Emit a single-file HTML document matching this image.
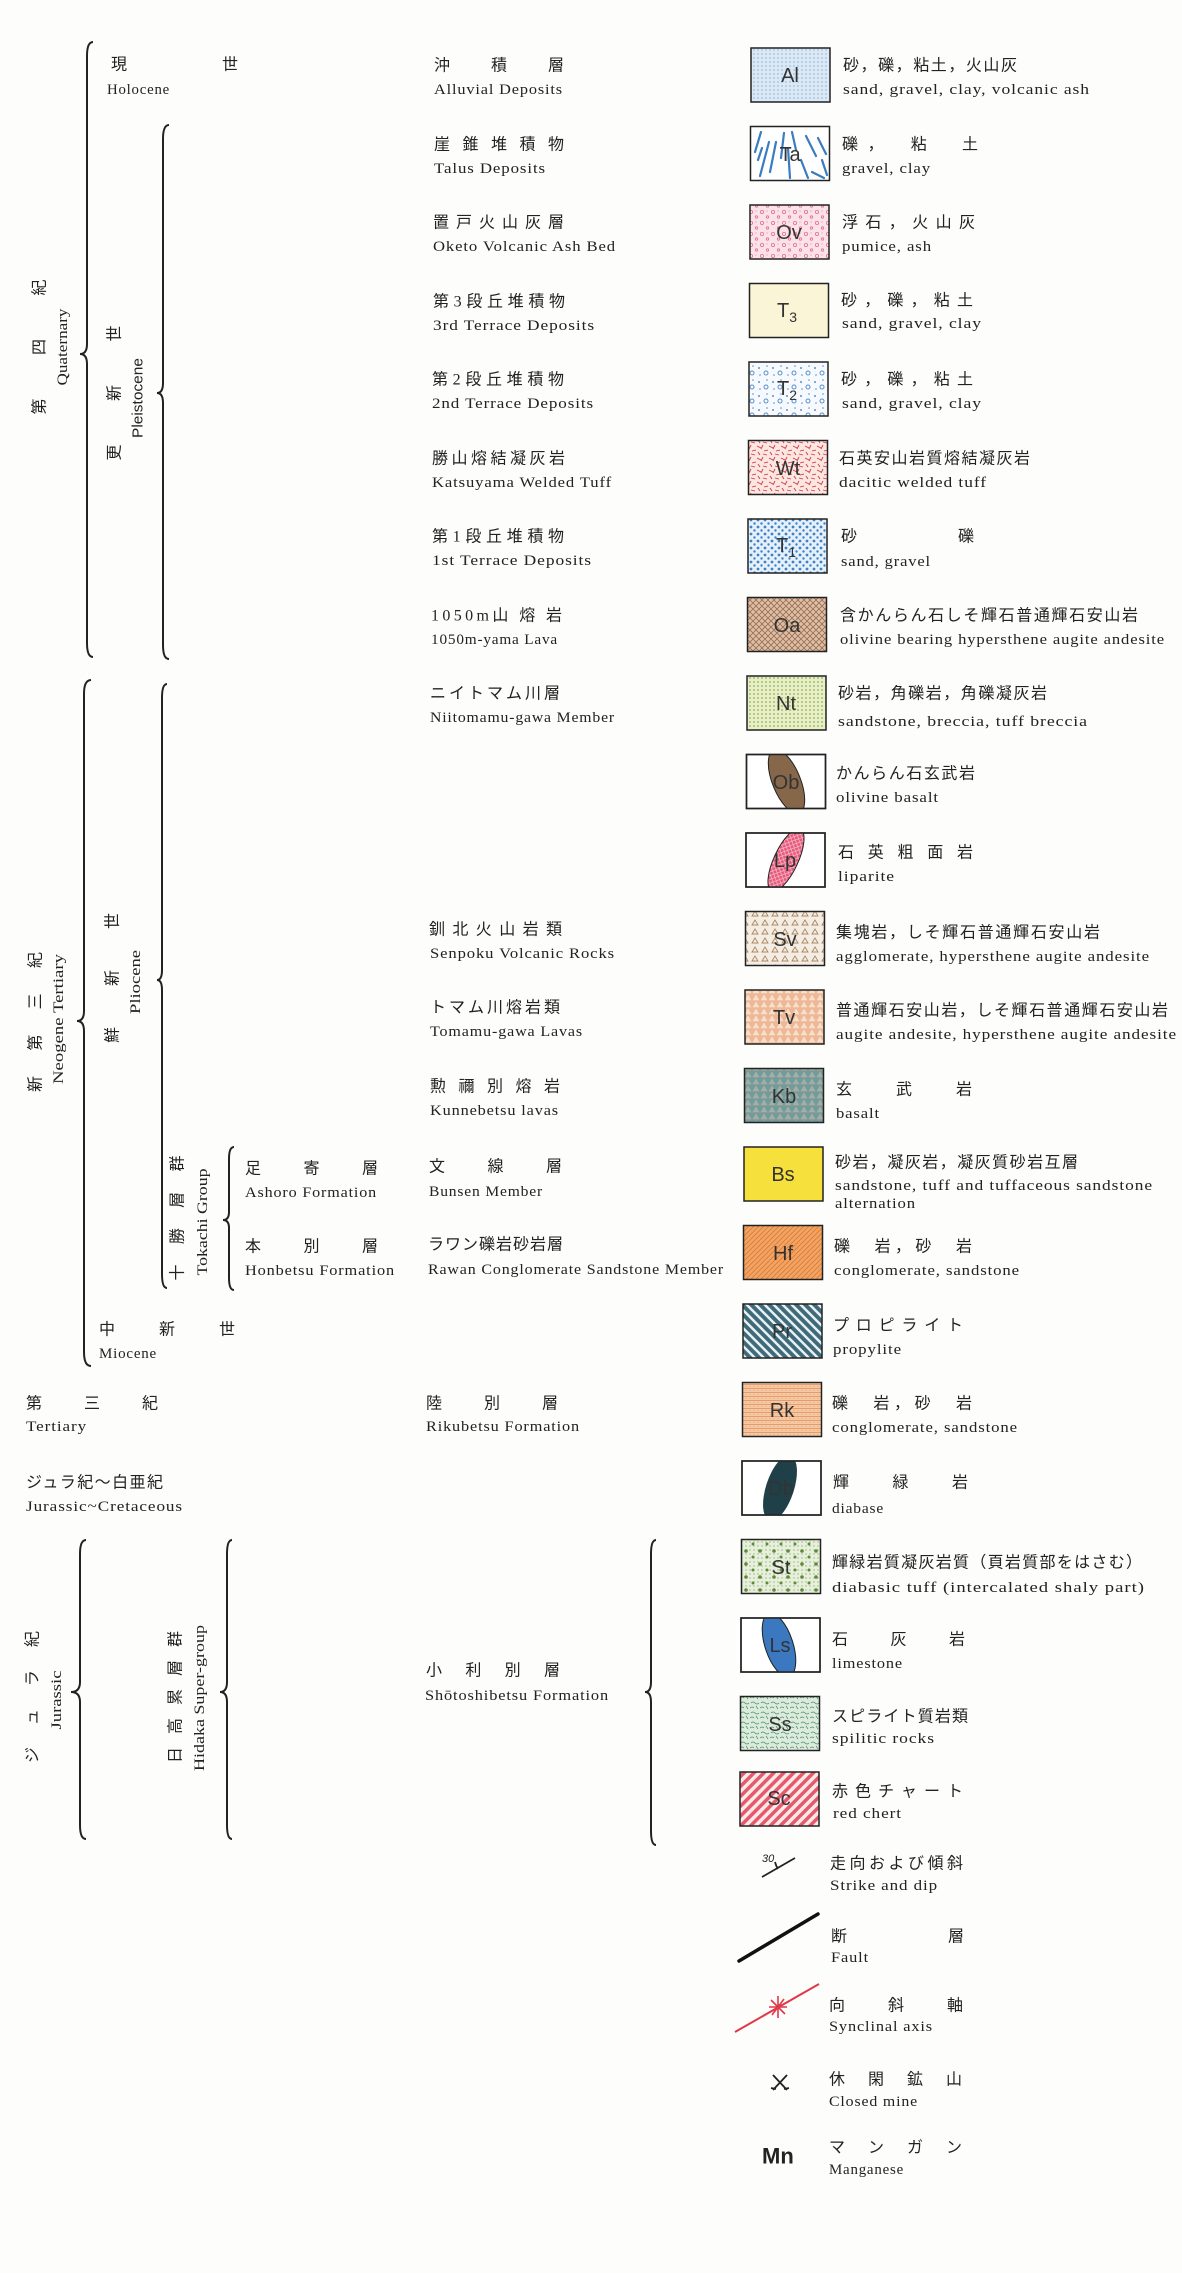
<!DOCTYPE html>
<html><head><meta charset="utf-8"><style>
html,body{margin:0;padding:0;background:#fdfdfb;}
svg{display:block;}
text{font-family:"Liberation Serif","Noto Serif CJK SC","Noto Sans CJK JP",serif;fill:#222;dominant-baseline:central;}
.en{font-size:15px;letter-spacing:0.8px;}
.jp{font-family:"Liberation Serif","Noto Sans CJK JP",sans-serif;font-size:16px;}
.lb{font-family:"Liberation Sans",sans-serif;font-size:20px;fill:#333;text-anchor:middle;}
.br{fill:none;stroke:#222;stroke-width:2;}
</style></head><body>
<svg width="1182" height="2273" viewBox="0 0 1182 2273" xmlns="http://www.w3.org/2000/svg">
<defs>
<pattern id="pAl" width="4" height="4" patternUnits="userSpaceOnUse"><rect width="4" height="4" fill="#dbe8f5"/><circle cx="2" cy="2" r="0.7" fill="#8fa8c8"/></pattern>
<pattern id="pOv" width="11" height="11" patternUnits="userSpaceOnUse"><rect width="11" height="11" fill="#fbe1e8"/><circle cx="3" cy="3" r="1.6" fill="none" stroke="#e0708f" stroke-width="0.8"/><circle cx="8.5" cy="8" r="1.2" fill="none" stroke="#e0708f" stroke-width="0.8"/><circle cx="8" cy="2" r="0.5" fill="#e0708f"/></pattern>
<pattern id="pT2" width="14" height="14" patternUnits="userSpaceOnUse"><rect width="14" height="14" fill="#f6f9fd"/><circle cx="3" cy="4" r="1" fill="#5a90c8"/><circle cx="10" cy="9" r="2" fill="none" stroke="#5a90c8"/><circle cx="11" cy="2" r="0.8" fill="#5a90c8"/><circle cx="4" cy="11" r="0.8" fill="#5a90c8"/></pattern>
<pattern id="pWt" width="12" height="12" patternUnits="userSpaceOnUse"><rect width="12" height="12" fill="#fbe6e0"/><path d="M1 2l4 2M7 1l-2 4M8 7l4-1M2 8l2 3M7 10l4 1" stroke="#d03848" stroke-width="0.9"/></pattern>
<pattern id="pTr" width="7" height="7" patternUnits="userSpaceOnUse"><rect width="7" height="7" fill="#e6f0fb"/><circle cx="2" cy="2" r="1.4" fill="#3b82c8"/><circle cx="5.5" cy="5.5" r="1.2" fill="#3b82c8"/></pattern>
<pattern id="pOa" width="6" height="6" patternUnits="userSpaceOnUse"><rect width="6" height="6" fill="#dcbfa6"/><path d="M0 0L6 6M6 0L0 6" stroke="#9a6e50" stroke-width="0.8"/></pattern>
<pattern id="pNt" width="4" height="4" patternUnits="userSpaceOnUse"><rect width="4" height="4" fill="#e6f0c4"/><circle cx="2" cy="2" r="0.9" fill="#98aa68"/></pattern>
<pattern id="pLp" width="5" height="5" patternUnits="userSpaceOnUse"><rect width="5" height="5" fill="#e6587c"/><path d="M0 0L5 5M5 0L0 5" stroke="#f8c0cc" stroke-width="0.7"/></pattern>
<pattern id="pSv" width="10" height="9" patternUnits="userSpaceOnUse"><rect width="10" height="9" fill="#f6ede2"/><path d="M2 7L5 2L8 7Z" fill="none" stroke="#a58868" stroke-width="0.9"/></pattern>
<pattern id="pTv" width="8" height="7" patternUnits="userSpaceOnUse"><rect width="8" height="7" fill="#eeb896"/><path d="M1 6L4 1L7 6Z" fill="#f8ddc8" stroke="#f8e6d8" stroke-width="0.5"/></pattern>
<pattern id="pKb" width="8" height="7" patternUnits="userSpaceOnUse"><rect width="8" height="7" fill="#6f9c9e"/><path d="M1 6L4 1L7 6Z" fill="#8fb4b8" stroke="#c0a488" stroke-width="0.7"/></pattern>
<pattern id="pHf" width="5" height="5" patternUnits="userSpaceOnUse"><rect width="5" height="5" fill="#f4a462"/><path d="M0 5L5 0M-1 1L1 -1M4 6L6 4" stroke="#d87a38" stroke-width="0.8"/></pattern>
<pattern id="pPr" width="9" height="9" patternUnits="userSpaceOnUse"><rect width="9" height="9" fill="#3e6a7a"/><path d="M0 0L9 9M-9 0L9 18M0 -9L18 9" stroke="#e8f0f2" stroke-width="2.5" transform="scale(1,1)"/></pattern>
<pattern id="pRk" width="4" height="4" patternUnits="userSpaceOnUse"><rect width="4" height="4" fill="#f7c9a2"/><path d="M0 0.5H4" stroke="#e09060" stroke-width="0.8"/><circle cx="2" cy="2.5" r="0.5" fill="#e09a70"/></pattern>
<pattern id="pSt" width="4" height="4" patternUnits="userSpaceOnUse"><rect width="4" height="4" fill="#e7f0da"/><circle cx="2" cy="2" r="0.7" fill="#9ab080"/></pattern>
<pattern id="pSt2" width="14" height="13" patternUnits="userSpaceOnUse"><circle cx="4" cy="4" r="1.8" fill="#5e8a3a"/><circle cx="11" cy="10" r="1.5" fill="#5e8a3a"/></pattern>
<pattern id="pSs" width="10" height="10" patternUnits="userSpaceOnUse"><rect width="10" height="10" fill="#dcecdc"/><path d="M1 3q2-2 4 0t4 0M0 8q2-2 4 0M6 6l2 3" fill="none" stroke="#4d8a6a" stroke-width="0.7"/></pattern>
<pattern id="pSc" width="7" height="7" patternUnits="userSpaceOnUse" patternTransform="rotate(45)"><rect width="7" height="7" fill="#fde8ea"/><rect width="3.5" height="7" fill="#e55a6a"/></pattern>
</defs>

<!-- brackets -->
<path class="br" d="M93 42Q87 42 87 56L87 344Q87 354 80 354Q87 354 87 364L87 643Q87 657 93 657"/>
<path class="br" d="M169 125Q163 125 163 139L163 383Q163 393 157 393Q163 393 163 403L163 645Q163 659 169 659"/>
<path class="br" d="M91 680Q84 680 84 694L84 1011Q84 1021 77 1021Q84 1021 84 1031L84 1352Q84 1366 91 1366"/>
<path class="br" d="M167 684Q162 684 162 698L162 970Q162 980 157 980Q162 980 162 990L162 1274Q162 1288 167 1288"/>
<path class="br" d="M234 1147Q229 1147 229 1159L229 1212Q229 1220 223 1220Q229 1220 229 1228L229 1278Q229 1290 234 1290"/>
<path class="br" d="M86 1540Q80 1540 80 1554L80 1682Q80 1692 71 1692Q80 1692 80 1702L80 1825Q80 1839 86 1839"/>
<path class="br" d="M232 1540Q227 1540 227 1554L227 1682Q227 1692 220 1692Q227 1692 227 1702L227 1825Q227 1839 232 1839"/>
<path class="br" d="M656 1540Q651 1540 651 1554L651 1682Q651 1692 645 1692Q651 1692 651 1702L651 1831Q651 1845 656 1845"/>

<!-- vertical labels -->
<text class="jp" transform="translate(40,347) rotate(-90)" text-anchor="middle" textLength="135" lengthAdjust="spacing">第四紀</text>
<text class="en" transform="translate(63,347) rotate(-90)" text-anchor="middle" textLength="77" lengthAdjust="spacingAndGlyphs" style="letter-spacing:0">Quaternary</text>
<text class="jp" transform="translate(115,393) rotate(-90)" text-anchor="middle" textLength="135" lengthAdjust="spacing">更新世</text>
<text class="en" style="font-family:'Liberation Sans',sans-serif;letter-spacing:0" transform="translate(138,398) rotate(-90)" text-anchor="middle" textLength="80" lengthAdjust="spacingAndGlyphs">Pleistocene</text>
<text class="jp" transform="translate(36,1022) rotate(-90)" text-anchor="middle" textLength="140" lengthAdjust="spacing">新第三紀</text>
<text class="en" transform="translate(59,1019) rotate(-90)" text-anchor="middle" textLength="130" lengthAdjust="spacingAndGlyphs" style="letter-spacing:0">Neogene Tertiary</text>
<text class="jp" transform="translate(113,978) rotate(-90)" text-anchor="middle" textLength="130" lengthAdjust="spacing">鮮新世</text>
<text class="en" transform="translate(136,982) rotate(-90)" text-anchor="middle" textLength="64" lengthAdjust="spacingAndGlyphs" style="letter-spacing:0">Pliocene</text>
<text class="jp" transform="translate(178,1218) rotate(-90)" text-anchor="middle" textLength="125" lengthAdjust="spacing">十勝層群</text>
<text class="en" transform="translate(203,1222) rotate(-90)" text-anchor="middle" textLength="107" lengthAdjust="spacingAndGlyphs" style="letter-spacing:0">Tokachi Group</text>
<text class="jp" transform="translate(33,1697) rotate(-90)" text-anchor="middle" textLength="132" lengthAdjust="spacing">ジュラ紀</text>
<text class="en" transform="translate(57,1700) rotate(-90)" text-anchor="middle" textLength="59" lengthAdjust="spacingAndGlyphs" style="letter-spacing:0">Jurassic</text>
<text class="jp" transform="translate(176,1697) rotate(-90)" text-anchor="middle" textLength="132" lengthAdjust="spacing">日高累層群</text>
<text class="en" transform="translate(200,1698) rotate(-90)" text-anchor="middle" textLength="146" lengthAdjust="spacingAndGlyphs" style="letter-spacing:0">Hidaka Super-group</text>

<!-- left horizontal labels -->
<text class="jp" x="111" y="65">現</text><text class="jp" x="222" y="65">世</text>
<text class="en" x="107" y="90" textLength="63" lengthAdjust="spacingAndGlyphs">Holocene</text>
<text class="jp" x="245" y="1169" textLength="133" lengthAdjust="spacing">足寄層</text>
<text class="en" x="245" y="1193" textLength="132" lengthAdjust="spacingAndGlyphs">Ashoro Formation</text>
<text class="jp" x="245" y="1247" textLength="133" lengthAdjust="spacing">本別層</text>
<text class="en" x="245" y="1271" textLength="150" lengthAdjust="spacingAndGlyphs">Honbetsu Formation</text>
<text class="jp" x="99" y="1330" textLength="136" lengthAdjust="spacing">中新世</text>
<text class="en" x="99" y="1354" textLength="58" lengthAdjust="spacingAndGlyphs">Miocene</text>
<text class="jp" x="26" y="1404" textLength="132" lengthAdjust="spacing">第三紀</text>
<text class="en" x="26" y="1427" textLength="61" lengthAdjust="spacingAndGlyphs">Tertiary</text>
<text class="jp" x="26" y="1483" textLength="137" lengthAdjust="spacing">ジュラ紀～白亜紀</text>
<text class="en" x="26" y="1507" textLength="157" lengthAdjust="spacingAndGlyphs">Jurassic~Cretaceous</text>

<!-- middle column -->
<g>
<text class="jp" x="434" y="66" textLength="130" lengthAdjust="spacing">沖積層</text>
<text class="en" x="434" y="90" textLength="129" lengthAdjust="spacingAndGlyphs">Alluvial Deposits</text>
<text class="jp" x="434" y="145" textLength="130" lengthAdjust="spacing">崖錐堆積物</text>
<text class="en" x="434" y="169" textLength="112" lengthAdjust="spacingAndGlyphs">Talus Deposits</text>
<text class="jp" x="433" y="223" textLength="131" lengthAdjust="spacing">置戸火山灰層</text>
<text class="en" x="433" y="247" textLength="183" lengthAdjust="spacingAndGlyphs">Oketo Volcanic Ash Bed</text>
<text class="jp" x="433" y="302" textLength="132" lengthAdjust="spacing">第3段丘堆積物</text>
<text class="en" x="433" y="326" textLength="162" lengthAdjust="spacingAndGlyphs">3rd Terrace Deposits</text>
<text class="jp" x="432" y="380" textLength="132" lengthAdjust="spacing">第2段丘堆積物</text>
<text class="en" x="432" y="404" textLength="162" lengthAdjust="spacingAndGlyphs">2nd Terrace Deposits</text>
<text class="jp" x="432" y="459" textLength="133" lengthAdjust="spacing">勝山熔結凝灰岩</text>
<text class="en" x="432" y="483" textLength="180" lengthAdjust="spacingAndGlyphs">Katsuyama Welded Tuff</text>
<text class="jp" x="432" y="537" textLength="132" lengthAdjust="spacing">第1段丘堆積物</text>
<text class="en" x="432" y="561" textLength="160" lengthAdjust="spacingAndGlyphs">1st Terrace Deposits</text>
<text class="jp" x="431" y="616" textLength="131" lengthAdjust="spacing">1050m山 熔 岩</text>
<text class="en" x="431" y="640" textLength="127" lengthAdjust="spacingAndGlyphs">1050m-yama Lava</text>
<text class="jp" x="430" y="694" textLength="130" lengthAdjust="spacing">ニイトマム川層</text>
<text class="en" x="430" y="718" textLength="185" lengthAdjust="spacingAndGlyphs">Niitomamu-gawa Member</text>
<text class="jp" x="429" y="930" textLength="133" lengthAdjust="spacing">釧北火山岩類</text>
<text class="en" x="430" y="954" textLength="185" lengthAdjust="spacingAndGlyphs">Senpoku Volcanic Rocks</text>
<text class="jp" x="430" y="1008" textLength="130" lengthAdjust="spacing">トマム川熔岩類</text>
<text class="en" x="430" y="1032" textLength="153" lengthAdjust="spacingAndGlyphs">Tomamu-gawa Lavas</text>
<text class="jp" x="430" y="1087" textLength="130" lengthAdjust="spacing">勲禰別熔岩</text>
<text class="en" x="430" y="1111" textLength="129" lengthAdjust="spacingAndGlyphs">Kunnebetsu lavas</text>
<text class="jp" x="429" y="1167" textLength="133" lengthAdjust="spacing">文線層</text>
<text class="en" x="429" y="1192" textLength="114" lengthAdjust="spacingAndGlyphs">Bunsen Member</text>
<text class="jp" x="428" y="1245" textLength="135" lengthAdjust="spacing">ラワン礫岩砂岩層</text>
<text class="en" x="428" y="1270" textLength="296" lengthAdjust="spacingAndGlyphs">Rawan Conglomerate Sandstone Member</text>
<text class="jp" x="426" y="1404" textLength="132" lengthAdjust="spacing">陸別層</text>
<text class="en" x="426" y="1427" textLength="154" lengthAdjust="spacingAndGlyphs">Rikubetsu Formation</text>
<text class="jp" x="426" y="1671" textLength="134" lengthAdjust="spacing">小利別層</text>
<text class="en" x="425" y="1696" textLength="184" lengthAdjust="spacingAndGlyphs">Shōtoshibetsu Formation</text>
</g>

<!-- legend boxes -->
<g stroke="#222" stroke-width="1.5">
<rect x="751" y="48" width="79" height="54" fill="url(#pAl)"/>
<rect x="750.5" y="126.5" width="79" height="54" fill="#fff"/>
<rect x="750" y="205" width="79" height="54" fill="url(#pOv)"/>
<rect x="749.5" y="283.5" width="79" height="54" fill="#faf5d6"/>
<rect x="749" y="362" width="79" height="54" fill="url(#pT2)"/>
<rect x="748.5" y="440.5" width="79" height="54" fill="url(#pWt)"/>
<rect x="748" y="519" width="79" height="54" fill="url(#pTr)"/>
<rect x="747.5" y="597.5" width="79" height="54" fill="url(#pOa)"/>
<rect x="747" y="676" width="79" height="54" fill="url(#pNt)"/>
<rect x="746.5" y="754.5" width="79" height="54" fill="#fff"/>
<rect x="746" y="833" width="79" height="54" fill="#fff"/>
<rect x="745.5" y="911.5" width="79" height="54" fill="url(#pSv)"/>
<rect x="745" y="990" width="79" height="54" fill="url(#pTv)"/>
<rect x="744.5" y="1068.5" width="79" height="54" fill="url(#pKb)"/>
<rect x="744" y="1147" width="79" height="54" fill="#f6e03c"/>
<rect x="743.5" y="1225.5" width="79" height="54" fill="url(#pHf)"/>
<rect x="743" y="1304" width="79" height="54" fill="url(#pPr)"/>
<rect x="742.5" y="1382.5" width="79" height="54" fill="url(#pRk)"/>
<rect x="742" y="1461" width="79" height="54" fill="#fff"/>
<rect x="741.5" y="1539.5" width="79" height="54" fill="url(#pSt)"/>
<rect x="741" y="1618" width="79" height="54" fill="#fff"/>
<rect x="740.5" y="1696.5" width="79" height="54" fill="url(#pSs)"/>
<rect x="740" y="1772" width="79" height="54" fill="url(#pSc)"/>
</g>
<rect x="741.5" y="1539.5" width="79" height="54" fill="url(#pSt2)"/>
<!-- Ta strokes -->
<g stroke="#3a7cc0" stroke-width="2.2" stroke-linecap="round">
<path d="M755 152l6-20M760 176l9-34M770 172l6-30M781 158l3-25M790 178l-2-30M796 150l-4-18M806 136l10 20M801 160l7 18M812 172l12 6M818 138l8 16M822 160l5 15M762 148l-4 12"/>
</g>
<!-- lenses -->
<svg x="746.5" y="754.5" width="79" height="54"><ellipse cx="40" cy="27" rx="14" ry="34" transform="rotate(-22 40 27)" fill="#86674a" stroke="#222"/></svg>
<svg x="746" y="833" width="79" height="54"><ellipse cx="40" cy="27" rx="12" ry="34" transform="rotate(25 40 27)" fill="url(#pLp)" stroke="#222"/></svg>
<svg x="742" y="1461" width="79" height="54"><ellipse cx="38" cy="27" rx="14" ry="34" transform="rotate(18 38 27)" fill="#1f4048"/></svg>
<svg x="741" y="1618" width="79" height="54"><ellipse cx="38" cy="27" rx="14" ry="33" transform="rotate(-18 38 27)" fill="#3b78c0" stroke="#222"/></svg>
<!-- re-stroke lens boxes -->
<g fill="none" stroke="#222" stroke-width="1.5">
<rect x="746.5" y="754.5" width="79" height="54"/><rect x="746" y="833" width="79" height="54"/><rect x="742" y="1461" width="79" height="54"/><rect x="741" y="1618" width="79" height="54"/>
</g>
<!-- box labels -->
<g>
<text class="lb" x="790" y="76">Al</text>
<text class="lb" x="790" y="155">Ta</text>
<text class="lb" x="789" y="233">Ov</text>
<text class="lb" x="787" y="311">T<tspan font-size="14" dy="6">3</tspan></text>
<text class="lb" x="787" y="389">T<tspan font-size="14" dy="6">2</tspan></text>
<text class="lb" x="788" y="469">Wt</text>
<text class="lb" x="786" y="546">T<tspan font-size="14" dy="6">1</tspan></text>
<text class="lb" x="787" y="626">Oa</text>
<text class="lb" x="786" y="704">Nt</text>
<text class="lb" x="786" y="783">Ob</text>
<text class="lb" x="785" y="861">Lp</text>
<text class="lb" x="785" y="940">Sv</text>
<text class="lb" x="784" y="1018">Tv</text>
<text class="lb" x="784" y="1097">Kb</text>
<text class="lb" x="783" y="1175">Bs</text>
<text class="lb" x="783" y="1254">Hf</text>
<text class="lb" x="782" y="1332">Pr</text>
<text class="lb" x="782" y="1411">Rk</text>
<text class="lb" x="781" y="1489">Db</text>
<text class="lb" x="781" y="1568">St</text>
<text class="lb" x="780" y="1646">Ls</text>
<text class="lb" x="780" y="1725">Ss</text>
<text class="lb" x="779" y="1799">Sc</text>
</g>

<!-- descriptions -->
<g>
<text class="jp" x="843" y="66" textLength="174" lengthAdjust="spacing">砂，礫，粘土，火山灰</text>
<text class="en" x="843" y="90" textLength="247" lengthAdjust="spacingAndGlyphs">sand, gravel, clay, volcanic ash</text>
<text class="jp" x="842" y="145" textLength="136" lengthAdjust="spacing">礫，　粘　土</text>
<text class="en" x="842" y="169" textLength="89" lengthAdjust="spacingAndGlyphs">gravel, clay</text>
<text class="jp" x="842" y="223" textLength="133" lengthAdjust="spacing">浮石，火山灰</text>
<text class="en" x="842" y="247" textLength="90" lengthAdjust="spacingAndGlyphs">pumice, ash</text>
<text class="jp" x="841" y="301" textLength="132" lengthAdjust="spacing">砂，礫，粘土</text>
<text class="en" x="842" y="324" textLength="140" lengthAdjust="spacingAndGlyphs">sand, gravel, clay</text>
<text class="jp" x="841" y="380" textLength="132" lengthAdjust="spacing">砂，礫，粘土</text>
<text class="en" x="842" y="404" textLength="140" lengthAdjust="spacingAndGlyphs">sand, gravel, clay</text>
<text class="jp" x="839" y="459" textLength="191" lengthAdjust="spacing">石英安山岩質熔結凝灰岩</text>
<text class="en" x="839" y="483" textLength="148" lengthAdjust="spacingAndGlyphs">dacitic welded tuff</text>
<text class="jp" x="841" y="537">砂</text><text class="jp" x="958" y="537">礫</text>
<text class="en" x="841" y="562" textLength="90" lengthAdjust="spacingAndGlyphs">sand, gravel</text>
<text class="jp" x="840" y="616" textLength="298" lengthAdjust="spacing">含かんらん石しそ輝石普通輝石安山岩</text>
<text class="en" x="840" y="640" textLength="325" lengthAdjust="spacingAndGlyphs">olivine bearing hypersthene augite andesite</text>
<text class="jp" x="838" y="694" textLength="209" lengthAdjust="spacing">砂岩，角礫岩，角礫凝灰岩</text>
<text class="en" x="838" y="722" textLength="250" lengthAdjust="spacingAndGlyphs">sandstone, breccia, tuff breccia</text>
<text class="jp" x="836" y="774" textLength="139" lengthAdjust="spacing">かんらん石玄武岩</text>
<text class="en" x="836" y="798" textLength="103" lengthAdjust="spacingAndGlyphs">olivine basalt</text>
<text class="jp" x="838" y="853" textLength="135" lengthAdjust="spacing">石英粗面岩</text>
<text class="en" x="838" y="877" textLength="57" lengthAdjust="spacingAndGlyphs">liparite</text>
<text class="jp" x="836" y="933" textLength="264" lengthAdjust="spacing">集塊岩，しそ輝石普通輝石安山岩</text>
<text class="en" x="836" y="957" textLength="314" lengthAdjust="spacingAndGlyphs">agglomerate, hypersthene augite andesite</text>
<text class="jp" x="836" y="1011" textLength="332" lengthAdjust="spacing">普通輝石安山岩，しそ輝石普通輝石安山岩</text>
<text class="en" x="836" y="1035" textLength="341" lengthAdjust="spacingAndGlyphs">augite andesite, hypersthene augite andesite</text>
<text class="jp" x="836" y="1090" textLength="136" lengthAdjust="spacing">玄　武　岩</text>
<text class="en" x="836" y="1114" textLength="44" lengthAdjust="spacingAndGlyphs">basalt</text>
<text class="jp" x="835" y="1163" textLength="243" lengthAdjust="spacing">砂岩，凝灰岩，凝灰質砂岩互層</text>
<text class="en" x="835" y="1186" textLength="318" lengthAdjust="spacingAndGlyphs">sandstone, tuff and tuffaceous sandstone</text>
<text class="en" x="835" y="1204" textLength="81" lengthAdjust="spacingAndGlyphs">alternation</text>
<text class="jp" x="834" y="1247" textLength="138" lengthAdjust="spacing">礫　岩，砂　岩</text>
<text class="en" x="834" y="1271" textLength="186" lengthAdjust="spacingAndGlyphs">conglomerate, sandstone</text>
<text class="jp" x="833" y="1326" textLength="130" lengthAdjust="spacing">プロピライト</text>
<text class="en" x="833" y="1350" textLength="69" lengthAdjust="spacingAndGlyphs">propylite</text>
<text class="jp" x="832" y="1404" textLength="140" lengthAdjust="spacing">礫　岩，砂　岩</text>
<text class="en" x="832" y="1428" textLength="186" lengthAdjust="spacingAndGlyphs">conglomerate, sandstone</text>
<text class="jp" x="833" y="1483" textLength="135" lengthAdjust="spacing">輝　緑　岩</text>
<text class="en" x="832" y="1509" textLength="52" lengthAdjust="spacingAndGlyphs">diabase</text>
<text class="jp" x="832" y="1563" textLength="310" lengthAdjust="spacing">輝緑岩質凝灰岩質（頁岩質部をはさむ）</text>
<text class="en" x="832" y="1588" textLength="313" lengthAdjust="spacingAndGlyphs">diabasic tuff (intercalated shaly part)</text>
<text class="jp" x="832" y="1640" textLength="133" lengthAdjust="spacing">石　灰　岩</text>
<text class="en" x="832" y="1664" textLength="71" lengthAdjust="spacingAndGlyphs">limestone</text>
<text class="jp" x="832" y="1717" textLength="136" lengthAdjust="spacing">スピライト質岩類</text>
<text class="en" x="832" y="1739" textLength="103" lengthAdjust="spacingAndGlyphs">spilitic rocks</text>
<text class="jp" x="832" y="1792" textLength="131" lengthAdjust="spacing">赤色チャート</text>
<text class="en" x="833" y="1814" textLength="69" lengthAdjust="spacingAndGlyphs">red chert</text>
</g>

<!-- map symbols -->
<text x="762" y="1859" style="font-size:11px;font-style:italic;font-family:'Liberation Sans',sans-serif">30</text>
<path d="M762 1877L795 1858M775 1862Q776 1866 778 1869" stroke="#222" stroke-width="1.8" fill="none"/>
<text class="jp" x="830" y="1864" textLength="133" lengthAdjust="spacing">走向および傾斜</text>
<text class="en" x="830" y="1886" textLength="108" lengthAdjust="spacingAndGlyphs">Strike and dip</text>
<path d="M739 1961L818 1914" stroke="#111" stroke-width="3.5" stroke-linecap="round"/>
<text class="jp" x="831" y="1937" textLength="133" lengthAdjust="spacing">断　　　　層</text>
<text class="en" x="831" y="1958" textLength="38" lengthAdjust="spacingAndGlyphs">Fault</text>
<path d="M735 2032L819 1984" stroke="#e03848" stroke-width="2"/>
<path d="M771 2000L785 2014M772 2015L784 1999M778 1996L778 2018M769 2007L787 2007" stroke="#e03848" stroke-width="1.6"/>
<text class="jp" x="829" y="2006" textLength="134" lengthAdjust="spacing">向　斜　軸</text>
<text class="en" x="829" y="2027" textLength="104" lengthAdjust="spacingAndGlyphs">Synclinal axis</text>
<path d="M773 2075L787 2090M787 2075L773 2090M771 2088l5 1M789 2088l-5 1" stroke="#222" stroke-width="1.8" fill="none"/>
<text class="jp" x="829" y="2080" textLength="133" lengthAdjust="spacing">休閑鉱山</text>
<text class="en" x="829" y="2102" textLength="89" lengthAdjust="spacingAndGlyphs">Closed mine</text>
<text x="762" y="2156" style="font-family:'Liberation Sans',sans-serif;font-weight:bold;font-size:22px">Mn</text>
<text class="jp" x="829" y="2148" textLength="133" lengthAdjust="spacing">マンガン</text>
<text class="en" x="829" y="2170" textLength="75" lengthAdjust="spacingAndGlyphs">Manganese</text>
</svg>
</body></html>
